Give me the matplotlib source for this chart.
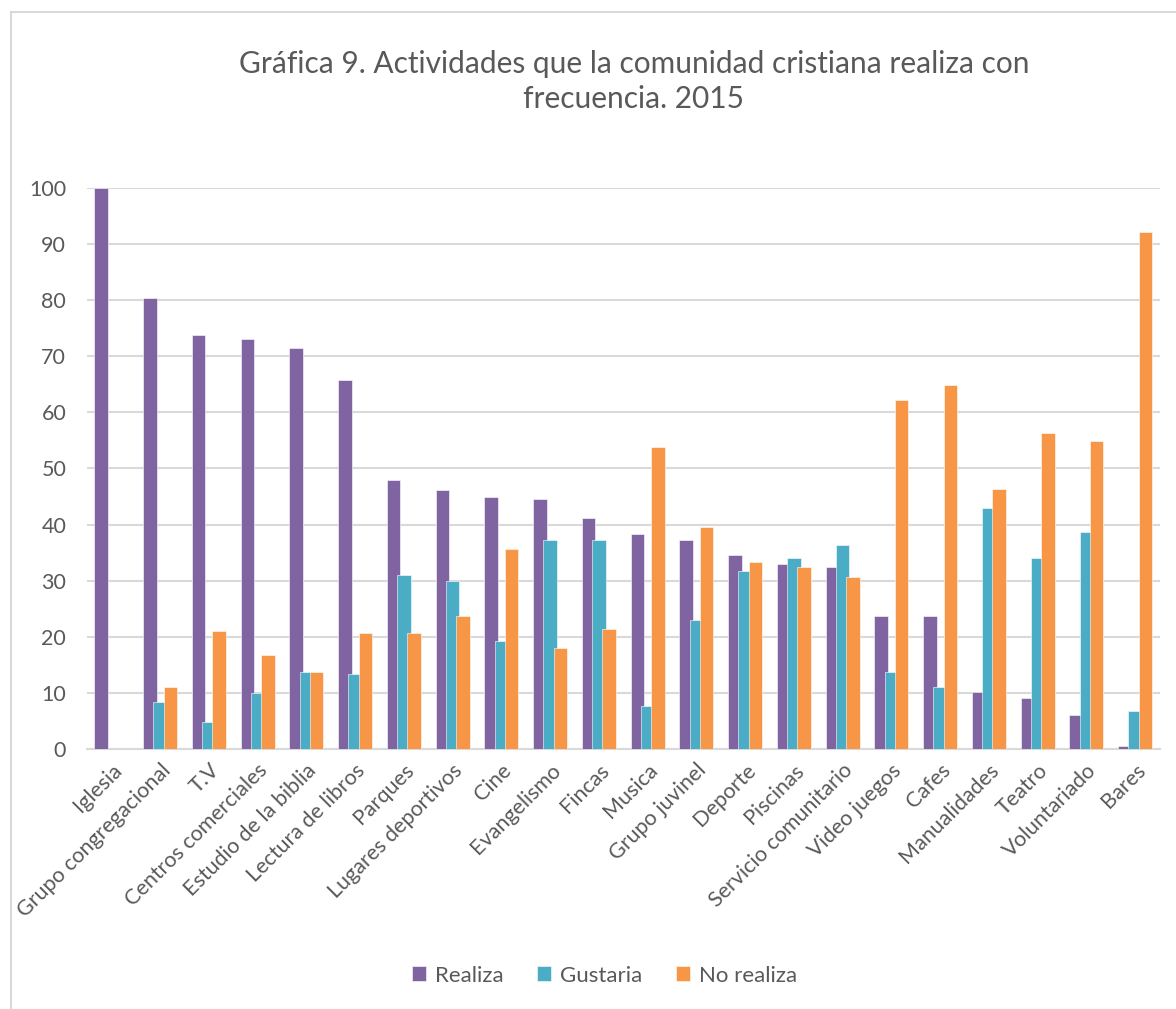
import matplotlib
matplotlib.use("Agg")
import matplotlib.pyplot as plt
import numpy as np
from matplotlib.patches import Rectangle

plt.rcParams['font.family'] = ['Lato', 'DejaVu Sans']

actividades = ['Iglesia', 'Grupo congregacional', 'T.V', 'Centros comerciales',
               'Estudio de la biblia', 'Lectura de libros', 'Parques',
               'Lugares deportivos', 'Cine', 'Evangelismo', 'Fincas', 'Musica',
               'Grupo juvinel', 'Deporte', 'Piscinas', 'Servicio comunitario',
               'Video juegos', 'Cafes', 'Manualidades', 'Teatro', 'Voluntariado',
               'Bares']
realiza = [100, 80.3, 73.8, 73.0, 71.4, 65.7, 48.0, 46.1, 44.9, 44.5, 41.1, 38.4,
           37.2, 34.5, 33.0, 32.5, 23.7, 23.7, 10.2, 9.1, 6.0, 0.6]
gustaria = [0, 8.3, 4.8, 9.9, 13.7, 13.3, 31.1, 29.9, 19.2, 37.2, 37.2, 7.6,
            23.0, 31.8, 34.0, 36.4, 13.7, 11.0, 42.9, 34.0, 38.7, 6.7]
no_realiza = [0, 11.0, 21.0, 16.8, 13.7, 20.7, 20.7, 23.7, 35.7, 18.0, 21.4, 53.8,
              39.5, 33.4, 32.5, 30.7, 62.2, 64.9, 46.4, 56.4, 54.9, 92.2]

series = [('Realiza', realiza, '#8064A2'),
          ('Gustaria', gustaria, '#4BACC6'),
          ('No realiza', no_realiza, '#F79646')]

gris = '#595959'
fig = plt.figure(figsize=(11.76, 10.09), dpi=100)
ax = fig.add_axes([0.074, 0.2577, 0.912, 0.556])

x = np.arange(len(actividades))
offsets = [-0.21, 0, 0.21]
for (nombre, vals, color), off in zip(series, offsets):
    ax.bar(x + off, vals, width=0.28, color=color, label=nombre,
           edgecolor='white', linewidth=0.4, zorder=3)

ax.set_xlim(-0.5, len(actividades) - 0.5)
ax.set_ylim(0, 100)
ax.set_yticks(range(0, 101, 10))
ax.yaxis.grid(True, color='#D9D9D9', linewidth=1.5, zorder=0)
ax.set_axisbelow(True)
for s in ['top', 'right', 'left']:
    ax.spines[s].set_visible(False)
ax.spines['bottom'].set_color('#D9D9D9')
ax.spines['bottom'].set_linewidth(1.5)
ax.tick_params(axis='y', length=0, pad=15, labelsize=15.5, labelcolor=gris)
ax.tick_params(axis='x', length=0, pad=8)
ax.set_xticks(x)
ax.set_xticklabels(actividades, rotation=45, ha='right', rotation_mode='anchor',
                   fontsize=15.5, color=gris)

fig.text(0.539, 0.919, 'Gráfica 9. Actividades que la comunidad cristiana realiza con\nfrecuencia. 2015',
         ha='center', va='center', fontsize=21.5, color=gris, linespacing=1.3)

fig.legend(loc='center', bbox_to_anchor=(0.514, 0.033), ncol=3, frameon=False,
           fontsize=16, handlelength=0.65, handleheight=0.65, columnspacing=1.5,
           handletextpad=0.4, labelcolor=gris)

# borde del área del gráfico
fig.patches.append(Rectangle((11 / 1176, -0.01), 1.1, 1 - 12 / 1009 + 0.01,
                             transform=fig.transFigure, fill=False,
                             edgecolor='#D9D9D9', linewidth=1.5))

fig.savefig('out.png', dpi=100)
